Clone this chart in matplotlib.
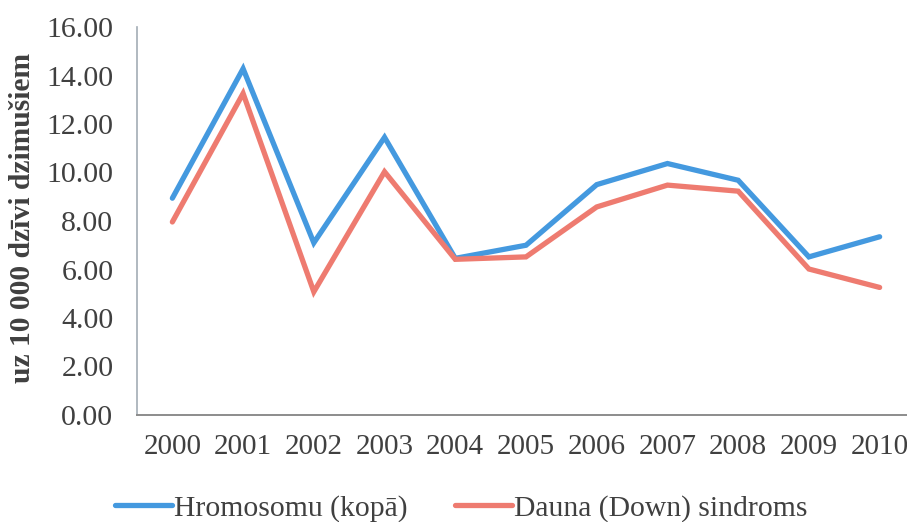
import matplotlib.pyplot as plt

plt.rcParams['font.family'] = ['Liberation Serif', 'DejaVu Serif']

years = ['2000', '2001', '2002', '2003', '2004', '2005', '2006', '2007', '2008', '2009', '2010']
hromosomu = [8.94, 14.28, 7.10, 11.45, 6.46, 7.00, 9.50, 10.37, 9.68, 6.52, 7.35]
dauna = [7.96, 13.26, 5.08, 10.03, 6.42, 6.52, 8.58, 9.48, 9.23, 6.02, 5.26]

blue = '#4499DF'
red = '#EE7B70'
text_col = '#404040'

fig = plt.figure(figsize=(9.07, 5.22), dpi=100)
# axes run a little past the right edge of the figure
ax = fig.add_axes([137 / 907, 1 - 415 / 522, 778 / 907, 388 / 522])

x = range(len(years))
ax.plot(x, hromosomu, color=blue, lw=3.8, label='Hromosomu (kopā)', solid_capstyle='round', solid_joinstyle='miter')
ax.plot(x, dauna, color=red, lw=3.8, label='Dauna (Down) sindroms', solid_capstyle='round', solid_joinstyle='miter')

ax.set_xlim(-0.5, len(years) - 0.5)
ax.set_ylim(0, 16)
ax.set_yticks(range(0, 17, 2))
ax.set_yticklabels(['%.2f' % v for v in range(0, 17, 2)])
ax.set_xticks(list(x))
ax.set_xticklabels(years)
ax.tick_params(axis='y', length=0, labelsize=21.5, colors=text_col, pad=17)
ax.tick_params(axis='x', length=0, labelsize=21, colors=text_col, pad=14)

for side in ['top', 'right']:
    ax.spines[side].set_visible(False)
ax.spines['left'].set_color('#a3adb5')
ax.spines['bottom'].set_color('#8c8c8c')
ax.spines['left'].set_linewidth(1.2)
ax.spines['bottom'].set_linewidth(1.4)

ax.set_ylabel('uz 10 000 dzīvi dzimušiem', fontsize=21.3, fontweight='bold', color=text_col)
ax.yaxis.set_label_coords(-0.130, 0.508)

fig.legend(loc='center', bbox_to_anchor=(0.509, 14 / 522), ncol=2, frameon=False,
           fontsize=21.3, handlelength=1.9, handletextpad=0.1, columnspacing=1.6,
           labelcolor=text_col, borderpad=0)

fig.savefig('out.png', dpi=100)
